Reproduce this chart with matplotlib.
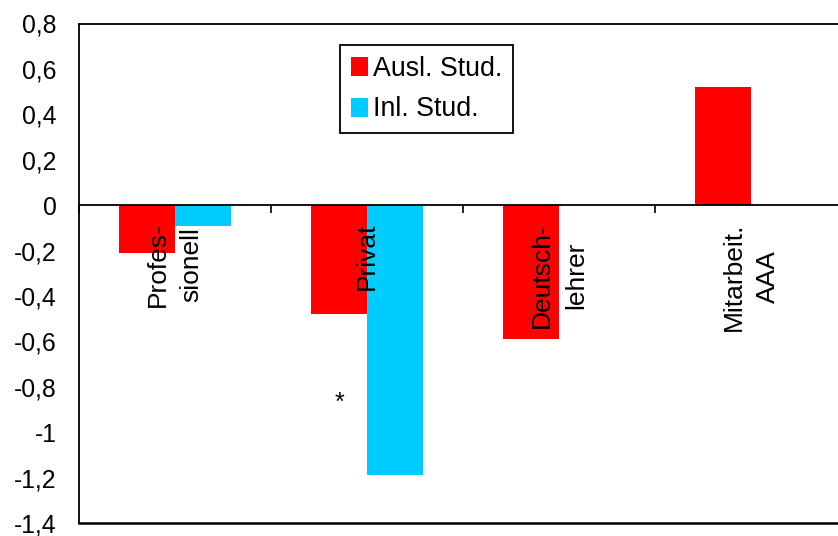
import numpy as np
import matplotlib
matplotlib.use("Agg")
import matplotlib.pyplot as plt
from matplotlib.ticker import FuncFormatter

plt.rcParams['font.family'] = ['Liberation Sans', 'DejaVu Sans']

# Data
categories = ["Profes-\nsionell", "Privat", "Deutsch-\nlehrer", "Mitarbeit.\nAAA"]
ausl_stud = [-0.21, -0.48, -0.59, 0.52]
inl_stud = [-0.09, -1.19, np.nan, np.nan]
series_names = ["Ausl. Stud.", "Inl. Stud."]
yticks = [0.8, 0.6, 0.4, 0.2, 0, -0.2, -0.4, -0.6, -0.8, -1, -1.2, -1.4]
star_category = 1
star_value = -0.87

RED = "#FF0000"
CYAN = "#00CCFF"
FS_TICK = 17.8
FS_CAT = 19
FS_LEG = 19.3

fig = plt.figure(figsize=(8.38, 5.36), dpi=100)
ax = fig.add_axes([79 / 838, 13 / 536, 768 / 838, 499.5 / 536])

x = np.arange(len(categories))
w = 0.29
ax.bar(x - w / 2, ausl_stud, width=w, color=RED, label=series_names[0], zorder=2)
ax.bar(x + w / 2, inl_stud, width=w, color=CYAN, label=series_names[1], zorder=2)

ax.set_xlim(-0.5, len(categories) - 0.5)
ax.set_ylim(min(yticks), max(yticks))
ax.set_yticks(yticks)
ax.yaxis.set_major_formatter(FuncFormatter(lambda v, _: f"{v:g}".replace(".", ",")))
ax.tick_params(axis='y', length=0, pad=16, labelsize=FS_TICK)

# Zero axis carries the category-boundary tick marks
ax.spines['bottom'].set_position(('data', 0))
ax.spines['bottom'].set_zorder(3)
ax.set_xticks(np.arange(len(categories) + 1) - 0.5)
ax.set_xticklabels([])
ax.tick_params(axis='x', direction='out', length=6, width=1.2, color='black')
for s in ['left', 'top', 'bottom', 'right']:
    ax.spines[s].set_linewidth(1.3)
    ax.spines[s].set_color('black')
# Bottom frame edge
ax.plot([0, 1], [0, 0], transform=ax.transAxes, color='black', lw=1.8, clip_on=False)

# Category labels, rotated, hanging below the zero line
for xi, lab in zip(x, categories):
    ax.text(xi, -0.075, lab, rotation=90, ha='center', va='top',
            multialignment='center', linespacing=1.5, fontsize=FS_CAT, zorder=4)

ax.text(star_category - w / 2, star_value, "*", ha='center', va='center', fontsize=18)

leg = ax.legend(loc='upper left', bbox_to_anchor=(0.34, 0.957), borderaxespad=0,
                fontsize=FS_LEG, handlelength=0.64, handleheight=0.72, handletextpad=0.2,
                borderpad=0.4, labelspacing=0.55, fancybox=False, framealpha=1,
                edgecolor='black')
leg.get_frame().set_linewidth(1.3)

fig.savefig("out.png", dpi=100)
